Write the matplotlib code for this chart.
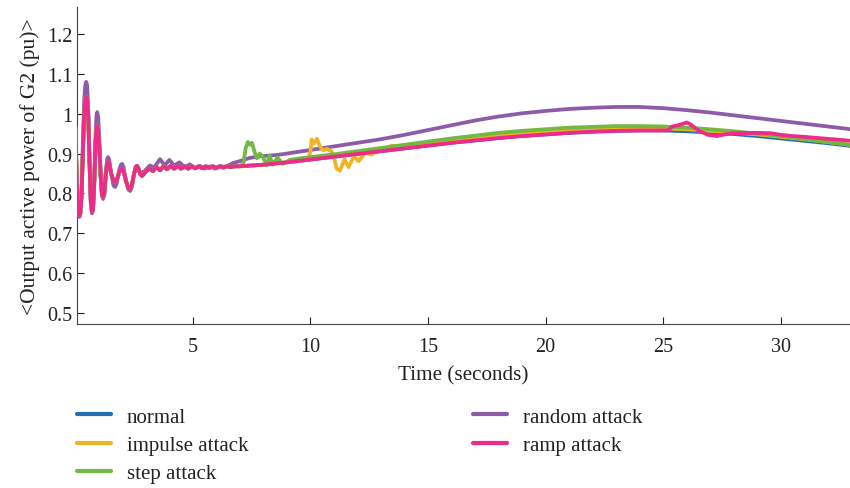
import matplotlib
matplotlib.use("Agg")
import matplotlib.pyplot as plt
import numpy as np

# ---------------- data ----------------
# shared start (normal / impulse / step / ramp are identical here)
t_common = [0.0, 0.03, 0.08, 0.13, 0.17, 0.21, 0.26, 0.32, 0.38, 0.43, 0.46, 0.50, 0.55, 0.60,
            0.66, 0.71, 0.75, 0.80, 0.86, 0.90, 0.93, 0.97, 1.02, 1.08, 1.13, 1.18, 1.23, 1.29,
            1.35, 1.39, 1.44, 1.52, 1.62, 1.69, 1.76, 1.86, 1.94, 1.99, 2.05, 2.15, 2.25, 2.33,
            2.40, 2.50, 2.57, 2.62, 2.68, 2.76, 2.84, 2.92, 3.0,
            3.15, 3.3, 3.45, 3.6, 3.75, 3.9, 4.05, 4.2, 4.35, 4.5, 4.65, 4.8, 4.95,
            5.1, 5.25, 5.4, 5.55, 5.7, 5.85, 6.0, 6.15, 6.3, 6.45, 6.6, 6.8, 7.0]
v_common = [0.967, 0.900, 0.780, 0.748, 0.743, 0.750, 0.790, 0.900, 1.005, 1.038, 1.042, 1.035,
            0.990, 0.880, 0.775, 0.753, 0.760, 0.820, 0.930, 0.962, 0.969, 0.960, 0.915, 0.840,
            0.800, 0.791, 0.800, 0.845, 0.874, 0.879, 0.874, 0.850, 0.832, 0.829, 0.834, 0.852,
            0.860, 0.861, 0.856, 0.832, 0.814, 0.811, 0.820, 0.850, 0.866, 0.869, 0.863, 0.848,
            0.844, 0.849, 0.855,
            0.862, 0.856, 0.866, 0.858, 0.868, 0.861, 0.869, 0.862, 0.869, 0.862, 0.868, 0.862, 0.868,
            0.863, 0.868, 0.863, 0.868, 0.864, 0.868, 0.864, 0.868, 0.865, 0.868, 0.866, 0.868, 0.868]

# normal operation after t = 7 s
t_normal = [7.5, 8, 9, 10, 11, 12, 13, 14, 15, 16, 17, 18, 19, 20, 21, 22, 23, 24, 25,
            26, 27, 28, 29, 30, 31, 32, 33]
v_normal = [0.870, 0.872, 0.878, 0.885, 0.892, 0.899, 0.906, 0.913, 0.920, 0.927, 0.933,
            0.939, 0.944, 0.948, 0.952, 0.955, 0.957, 0.958, 0.958, 0.956, 0.953, 0.949,
            0.944, 0.938, 0.932, 0.926, 0.919]

# impulse attack after t = 7 s
t_impulse = [7.5, 8, 9, 9.9, 10.0, 10.05, 10.15, 10.28, 10.4, 10.55, 10.7, 10.9, 11.0, 11.12,
             11.25, 11.45, 11.62, 11.85, 12.05, 12.35, 12.6, 12.9, 13.15, 13.45, 13.75, 14.1,
             14.6, 15, 16, 17, 18, 19, 20, 21, 22, 23, 24, 25, 26, 27, 28, 29, 30, 31, 32, 33]
v_impulse = [0.870, 0.872, 0.878, 0.884, 0.905, 0.935, 0.925, 0.937, 0.918, 0.908, 0.912, 0.905,
             0.890, 0.862, 0.857, 0.885, 0.866, 0.893, 0.881, 0.903, 0.897, 0.913, 0.908, 0.920,
             0.915, 0.922, 0.922, 0.926, 0.933, 0.940, 0.946, 0.951, 0.955, 0.959, 0.961, 0.963,
             0.963, 0.963, 0.961, 0.957, 0.953, 0.948, 0.942, 0.936, 0.929, 0.922]

# step attack after t = 7 s
t_step = [7.15, 7.25, 7.34, 7.42, 7.51, 7.62, 7.72, 7.84, 7.97, 8.14, 8.26, 8.39, 8.6, 8.82,
          9.12, 9.54, 10, 11, 12, 13, 14, 15, 16, 17, 18, 19, 20, 21, 22, 23, 24, 25, 26, 27,
          28, 29, 30, 31, 32, 33]
v_step = [0.875, 0.915, 0.929, 0.922, 0.927, 0.905, 0.888, 0.900, 0.893, 0.870, 0.895, 0.872,
          0.890, 0.874, 0.884, 0.888, 0.891, 0.898, 0.906, 0.914, 0.922, 0.930, 0.938, 0.945,
          0.952, 0.957, 0.961, 0.965, 0.967, 0.969, 0.969, 0.968, 0.965, 0.961, 0.956, 0.950,
          0.944, 0.937, 0.929, 0.921]

# ramp attack after t = 7 s
t_ramp = [7.5, 8, 9, 10, 11, 12, 13, 14, 15, 16, 17, 18, 19, 20, 21, 22, 23, 24, 25, 25.2,
          25.4, 25.7, 26.0, 26.15, 26.5, 26.9, 27.3, 27.6, 28, 29, 29.6, 30, 30.5, 31, 32, 33]
v_ramp = [0.870, 0.872, 0.878, 0.885, 0.892, 0.899, 0.906, 0.913, 0.920, 0.927, 0.933, 0.939,
          0.944, 0.948, 0.952, 0.955, 0.957, 0.958, 0.958, 0.958, 0.968, 0.972, 0.978, 0.974,
          0.958, 0.947, 0.944, 0.948, 0.951, 0.952, 0.951, 0.947, 0.944, 0.942, 0.937, 0.932]

# random attack (whole record)
t_random = [0.0, 0.03, 0.08, 0.13, 0.17, 0.21, 0.26, 0.32, 0.38, 0.43, 0.46, 0.50, 0.55, 0.60,
            0.66, 0.71, 0.75, 0.80, 0.86, 0.90, 0.93, 0.97, 1.02, 1.08, 1.13, 1.18, 1.23, 1.29,
            1.35, 1.39, 1.44, 1.52, 1.62, 1.69, 1.76, 1.86, 1.94, 1.99, 2.05, 2.15, 2.25, 2.33,
            2.40, 2.50, 2.57, 2.62, 2.68, 2.80, 2.96, 3.17, 3.35, 3.6, 3.8, 4.0, 4.2,
            4.43, 4.65, 4.87, 5.1, 5.3, 5.5, 5.72, 5.95, 6.15, 6.4, 6.7, 7.0, 7.42, 7.84, 8.5,
            9, 10, 11, 12, 13, 14, 15, 16, 17, 18, 19, 20, 21, 22, 23, 24, 25, 26, 27, 28, 29,
            30, 31, 32, 33]
v_random = [0.967, 0.900, 0.780, 0.745, 0.741, 0.750, 0.800, 0.930, 1.040, 1.075, 1.080, 1.072,
            1.010, 0.900, 0.775, 0.750, 0.758, 0.830, 0.950, 0.995, 1.004, 0.993, 0.935, 0.840,
            0.795, 0.786, 0.796, 0.850, 0.885, 0.891, 0.885, 0.852, 0.820, 0.816, 0.825, 0.858,
            0.872, 0.874, 0.866, 0.832, 0.810, 0.806, 0.815, 0.850, 0.863, 0.866, 0.860, 0.850,
            0.857, 0.870, 0.865, 0.886, 0.870, 0.884, 0.870, 0.878, 0.865, 0.873, 0.863, 0.869,
            0.862, 0.868, 0.862, 0.868, 0.867, 0.876, 0.881, 0.889, 0.893, 0.896, 0.900, 0.909,
            0.918, 0.927, 0.936, 0.947, 0.959, 0.971, 0.983, 0.993, 1.001, 1.007, 1.012, 1.015,
            1.017, 1.017, 1.014, 1.009, 1.003, 0.996, 0.989, 0.982, 0.975, 0.968, 0.961]

labels = ["normal", "impulse attack", "step attack", "random attack", "ramp attack"]
colors = ["#1f6fb5", "#f0b323", "#72b843", "#8e5ba8", "#ee2a8a"]

x_ticks = [5, 10, 15, 20, 25, 30]
y_ticks = [0.5, 0.6, 0.7, 0.8, 0.9, 1.0, 1.1, 1.2]

# ---------------- figure ----------------
plt.rcParams['font.family'] = ['Liberation Serif', 'DejaVu Serif']
fig = plt.figure(figsize=(8.5, 4.89), dpi=100)
ax = fig.add_axes([77/850, 1-325/489, 1-77/850, (325-8)/489])

series = {
    "normal": (t_common + t_normal, v_common + v_normal),
    "impulse attack": (t_common + t_impulse, v_common + v_impulse),
    "step attack": (t_common + t_step, v_common + v_step),
    "random attack": (t_random, v_random),
    "ramp attack": (t_common + t_ramp, v_common + v_ramp),
}
zorders = {"normal": 2, "random attack": 3, "impulse attack": 4, "step attack": 5, "ramp attack": 6}
handles = {}
for lab, col in zip(labels, colors):
    tt, vv = series[lab]
    h, = ax.plot(tt, vv, color=col, lw=2.7, zorder=zorders[lab], label=lab,
                 solid_joinstyle='round', solid_capstyle='round')
    handles[lab] = h

ax.set_xlim(0.07, 32.95)
ax.set_ylim(0.472, 1.268)
ax.set_xticks(x_ticks)
ax.set_yticks(y_ticks)
ax.set_yticklabels(["%g" % v for v in y_ticks])
ax.tick_params(direction='in', length=5, width=0.8, labelsize=14.5, colors='#222222')
ax.tick_params(axis='x', pad=9)
for s in ['top', 'right']:
    ax.spines[s].set_visible(False)
for s in ['left', 'bottom']:
    ax.spines[s].set_color('#444444')
    ax.spines[s].set_linewidth(0.8)

ax.set_xlabel("Time (seconds)", fontsize=15.2, color='#222222', labelpad=7)
ax.set_ylabel("<Output active power of G2 (pu)>", fontsize=15.5, color='#222222', labelpad=5)

leg_kw = dict(loc='upper left', frameon=False, fontsize=15,
              handlelength=1.65, handletextpad=0.75, labelspacing=0.42, borderaxespad=0,
              borderpad=0)
leg1 = fig.legend([handles[l] for l in labels[:3]], labels[:3],
                  bbox_to_anchor=(77/850, 1-408/489), **leg_kw)
leg2 = fig.legend([handles[l] for l in labels[3:]], labels[3:],
                  bbox_to_anchor=(473/850, 1-408/489), **leg_kw)
for leg in (leg1, leg2):
    for t in leg.get_texts():
        t.set_color('#222222')
    for l in leg.get_lines():
        l.set_linewidth(3)

fig.savefig("out.png", dpi=100)
